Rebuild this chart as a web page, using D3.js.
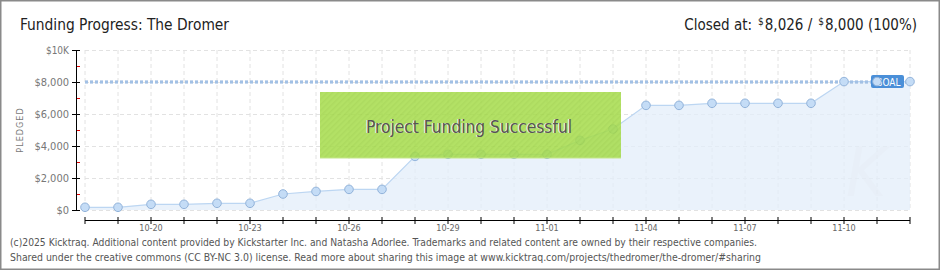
<!DOCTYPE html>
<html>
<head>
<meta charset="utf-8">
<script src="https://cdn.jsdelivr.net/npm/d3@7"></script>
<style>
  html, body { margin: 0; padding: 0; background: #fff; }
  #chart { width: 940px; height: 270px; }
  text { font-family: "DejaVu Sans Condensed", "Liberation Sans Narrow", sans-serif; }
</style>
</head>
<body>
<div id="chart"></div>
<script>
// Daily pledge totals
const dates = ["10-18","10-19","10-20","10-21","10-22","10-23","10-24","10-25","10-26","10-27",
  "10-28","10-29","10-30","10-31","11-01","11-02","11-03","11-04","11-05","11-06",
  "11-07","11-08","11-09","11-10","11-11","11-12"];
const pledged = [170, 170, 356, 356, 420, 420, 1000, 1160, 1290, 1290,
  3350, 3480, 3480, 3480, 3480, 4350, 5060, 6540, 6540, 6670,
  6670, 6670, 6670, 8026, 8026, 8026];
const goal = 8000;
const yTicks = [0, 2000, 4000, 6000, 8000, 10000];
const yMinor = [1000, 3000, 5000, 7000, 9000];
const xLabels = ["10-20","10-23","10-26","10-29","11-01","11-04","11-07","11-10"];

const W = 940, H = 270;
const svg = d3.select("#chart").append("svg")
  .attr("width", W)
  .attr("height", H);

// outer border
svg.append("rect")
  .attr("x", 0.5).attr("y", 0.5)
  .attr("width", W - 1).attr("height", H - 1)
  .attr("fill", "#fff")
  .attr("stroke", "#8a8a8a")
  .attr("stroke-width", 2);

const parseDate = d3.timeParse("%Y-%m-%d");
const toDate = s => parseDate("2024-" + s);
const data = dates.map((d, i) => ({ date: toDate(d), value: pledged[i] }));

const x = d3.scaleTime()
  .domain([toDate(dates[0]), toDate(dates[dates.length - 1])])
  .range([85, 910]);
const y = d3.scaleLinear()
  .domain([0, 10000])
  .range([210, 50]);

// Grid
const grid = svg.append("g");
grid.selectAll("line.v")
  .data(data)
  .enter().append("line")
  .attr("x1", d => x(d.date)).attr("x2", d => x(d.date))
  .attr("y1", 50).attr("y2", 210)
  .attr("stroke", "#e2e2e2")
  .attr("stroke-dasharray", "4,3");
grid.selectAll("line.h")
  .data(yTicks)
  .enter().append("line")
  .attr("x1", 85).attr("x2", 910)
  .attr("y1", d => y(d) + 0.5).attr("y2", d => y(d) + 0.5)
  .attr("stroke", "#e2e2e2")
  .attr("stroke-dasharray", "4,3");

// Area + line
const area = d3.area()
  .x(d => x(d.date))
  .y0(y(0))
  .y1(d => y(d.value));
svg.append("path")
  .datum(data)
  .attr("d", area)
  .attr("fill", "#e3eefa")
  .attr("fill-opacity", 0.75);

svg.append("path")
  .datum(data)
  .attr("d", d3.line().x(d => x(d.date)).y(d => y(d.value)))
  .attr("fill", "none")
  .attr("stroke", "#bcd6f2")
  .attr("stroke-width", 1.2);

// watermark
svg.append("text")
  .attr("x", 866).attr("y", 196)
  .attr("text-anchor", "middle")
  .attr("font-family", "DejaVu Serif")
  .attr("font-style", "italic")
  .attr("font-size", 68)
  .attr("fill", "#e6ecf3")
  .attr("opacity", 0.35)
  .text("K");

// Goal line
svg.append("line")
  .attr("x1", 85).attr("x2", 910)
  .attr("y1", y(goal)).attr("y2", y(goal))
  .attr("stroke", "#8fb2dc")
  .attr("stroke-width", 3)
  .attr("stroke-dasharray", "3,2");
svg.append("line")
  .attr("x1", 85).attr("x2", 910)
  .attr("y1", y(goal)).attr("y2", y(goal))
  .attr("stroke", "#b5cfee")
  .attr("stroke-width", 1)
  .attr("stroke-dasharray", "3,2");

// Goal label
const goalG = svg.append("g");
goalG.append("rect")
  .attr("x", 871).attr("y", y(goal) - 7)
  .attr("width", 33).attr("height", 13)
  .attr("rx", 2)
  .attr("fill", "#4a8fd8");
goalG.append("text")
  .attr("x", 888).attr("y", y(goal) + 3.5)
  .attr("text-anchor", "middle")
  .attr("font-size", 10)
  .attr("fill", "#fff")
  .text("GOAL");

// Points
svg.selectAll("circle.pt")
  .data(data)
  .enter().append("circle")
  .attr("cx", d => x(d.date))
  .attr("cy", d => y(d.value))
  .attr("r", 4.3)
  .attr("fill", "#c4dcf6")
  .attr("stroke", "#92b3da")
  .attr("stroke-width", 1);

// Success banner
const defs = svg.append("defs");
const pat = defs.append("pattern")
  .attr("id", "hatch")
  .attr("patternUnits", "userSpaceOnUse")
  .attr("width", 4).attr("height", 4)
  .attr("patternTransform", "rotate(45)");
pat.append("rect").attr("width", 4).attr("height", 4).attr("fill", "#a6dc4c");
pat.append("rect").attr("width", 1.5).attr("height", 4).attr("fill", "#9fd445");

svg.append("rect")
  .attr("x", 320).attr("y", 92)
  .attr("width", 301).attr("height", 66)
  .attr("fill", "url(#hatch)")
  .attr("fill-opacity", 0.86);
svg.append("line")
  .attr("x1", 320).attr("x2", 621)
  .attr("y1", 158).attr("y2", 158)
  .attr("stroke", "#c4e68a");
svg.append("text")
  .attr("x", 468).attr("y", 133)
  .attr("text-anchor", "middle")
  .attr("font-size", 18)
  .attr("textLength", 206)
  .attr("lengthAdjust", "spacingAndGlyphs")
  .attr("fill", "#f4f9ee")
  .text("Project Funding Successful");
svg.append("text")
  .attr("x", 469).attr("y", 133)
  .attr("text-anchor", "middle")
  .attr("font-size", 18)
  .attr("textLength", 206)
  .attr("lengthAdjust", "spacingAndGlyphs")
  .attr("fill", "#555")
  .text("Project Funding Successful");

// Y axis
const yAxis = svg.append("g");
yAxis.append("line")
  .attr("x1", 76.5).attr("x2", 76.5)
  .attr("y1", 50).attr("y2", 210)
  .attr("stroke", "#000");
yAxis.selectAll("line.maj")
  .data(yTicks)
  .enter().append("line")
  .attr("x1", 72).attr("x2", 80)
  .attr("y1", d => y(d) + 0.5).attr("y2", d => y(d) + 0.5)
  .attr("stroke", "#000");
yAxis.selectAll("line.min")
  .data(yMinor)
  .enter().append("line")
  .attr("x1", 77).attr("x2", 80)
  .attr("y1", d => y(d) + 0.5).attr("y2", d => y(d) + 0.5)
  .attr("stroke", "#e00000");
const yFmt = d => d === 10000 ? "$10K" : "$" + d3.format(",")(d);
yAxis.selectAll("text")
  .data(yTicks)
  .enter().append("text")
  .attr("x", 69)
  .attr("y", d => y(d) + 4)
  .attr("text-anchor", "end")
  .attr("font-size", d => d === 10000 ? 10 : 11)
  .attr("fill", "#777")
  .text(yFmt);

svg.append("text")
  .attr("transform", "translate(23,130) rotate(-90)")
  .attr("text-anchor", "middle")
  .attr("font-size", 9)
  .attr("letter-spacing", 1)
  .attr("fill", "#777")
  .text("PLEDGED");

// X axis
const xAxis = svg.append("g");
xAxis.append("line")
  .attr("x1", 85).attr("x2", 910)
  .attr("y1", 220.5).attr("y2", 220.5)
  .attr("stroke", "#000")
  .attr("stroke-width", 1.2);
xAxis.selectAll("line.t")
  .data(data)
  .enter().append("line")
  .attr("x1", d => x(d.date)).attr("x2", d => x(d.date))
  .attr("y1", 217).attr("y2", 224)
  .attr("stroke", "#000");
xAxis.selectAll("text")
  .data(xLabels)
  .enter().append("text")
  .attr("x", d => x(toDate(d)))
  .attr("y", 231)
  .attr("text-anchor", "middle")
  .attr("font-size", 9)
  .attr("fill", "#666")
  .text(d => d);

// Titles
svg.append("text")
  .attr("x", 20).attr("y", 30)
  .attr("font-size", 16)
  .attr("textLength", 209)
  .attr("lengthAdjust", "spacingAndGlyphs")
  .attr("fill", "#222")
  .text("Funding Progress: The Dromer");

// "Closed at" built from pieces laid out left to right, then right-aligned
const closedParts = [
  { t: "Closed at:", size: 15, dy: 0, gap: 6 },
  { t: "$", size: 10, dy: -5, gap: 1 },
  { t: "8,026 /", size: 15, dy: 0, gap: 6 },
  { t: "$", size: 10, dy: -5, gap: 1 },
  { t: "8,000 (100%)", size: 15, dy: 0, gap: 0 }
];
const closedG = svg.append("g");
let cx = 0;
closedParts.forEach(p => {
  const t = closedG.append("text")
    .attr("x", cx).attr("y", 30 + p.dy)
    .attr("font-size", p.size)
    .attr("fill", "#222")
    .text(p.t);
  cx += t.node().getComputedTextLength() + p.gap;
});
closedG.attr("transform", `translate(${917 - cx},0)`);

// Footer
const foot = [
  "(c)2025 Kicktraq. Additional content provided by Kickstarter Inc. and Natasha Adorlee. Trademarks and related content are owned by their respective companies.",
  "Shared under the creative commons (CC BY-NC 3.0) license. Read more about sharing this image at www.kicktraq.com/projects/thedromer/the-dromer/#sharing"
];
const footLen = [747, 751];
svg.selectAll("text.foot")
  .data(foot)
  .enter().append("text")
  .attr("class", "foot")
  .attr("x", 10)
  .attr("y", (d, i) => 246 + i * 15)
  .attr("font-size", 10)
  .attr("textLength", (d, i) => footLen[i])
  .attr("lengthAdjust", "spacingAndGlyphs")
  .attr("fill", "#555")
  .text(d => d);
</script>
</body>
</html>
